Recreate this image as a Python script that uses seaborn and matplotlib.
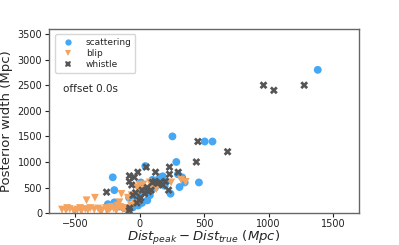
import numpy as np
import pandas as pd
import matplotlib
matplotlib.use('Agg')
import matplotlib.pyplot as plt
import seaborn as sns

# values (Mpc)
scatter_x = [-207, -195, -195, -245, -160, -120, -50, -30, 10, 30, 45, 60, 80, 100, 120,
             140, 160, 180, 195, 210, 240, 255, 285, 297, 310, 330, 350, 460, 505, 565,
             1380, -10, 20, 70, 150, -80, 0, 130, 170]
scatter_y = [700, 450, 210, 175, 130, 100, 115, 300, 600, 440, 920, 250, 350, 650, 500,
             600, 700, 720, 535, 620, 380, 1500, 1000, 760, 510, 700, 600, 600, 1400, 1400,
             2800, 150, 200, 400, 560, 300, 330, 640, 680]

blip_x = [-600, -570, -540, -510, -480, -450, -420, -400, -380, -350, -320, -290, -260,
          -230, -200, -180, -150, -410, -345, -140, -116, -100, -90, -60, -40, -20, 0, 30,
          60, 100, 245, 323, 357, -500, -300, -250, -130, -560, -460, -220, -170, 80, -5,
          129, -155, -65]
blip_y = [70, 60, 80, 50, 70, 40, 80, 60, 100, 70, 90, 60, 100, 80, 90, 50, 120, 250,
          300, 375, 100, 50, 300, 350, 200, 500, 550, 560, 480, 520, 600, 650, 610, 30,
          30, 40, 80, 100, 100, 120, 150, 600, 450, 470, 213, 147]

whistle_x = [-255, -75, -80, -78, -78, -13, 52, 124, 232, 232, 300, 225, 440, 452, 682,
             960, 1040, 1275, -50, -30, 0, 20, 60, 100, 120, 140, 160, 180, -60, 40, 70,
             -20, 10, -40, 90, 200]
whistle_y = [410, 100, 50, 730, 620, 800, 900, 800, 760, 900, 800, 450, 1000, 1400, 1200,
             2500, 2400, 2500, 350, 400, 250, 450, 500, 600, 620, 580, 600, 550, 550, 380,
             420, 200, 300, 700, 450, 620]

glitch_names = ['scattering', 'blip', 'whistle']
glitch_colors = ['#45A8F5', '#F4A460', '#555555']
glitch_markers = ['o', 'v', 'X']

df = pd.concat([
    pd.DataFrame({'dx': scatter_x, 'width': scatter_y, 'glitch': 'scattering'}),
    pd.DataFrame({'dx': blip_x, 'width': blip_y, 'glitch': 'blip'}),
    pd.DataFrame({'dx': whistle_x, 'width': whistle_y, 'glitch': 'whistle'}),
], ignore_index=True)

sns.set_style('ticks')
fig = plt.figure(figsize=(3.99, 2.45), dpi=100)
ax = fig.add_axes([0.123, 0.13, 0.777, 0.752])

sns.scatterplot(data=df, x='dx', y='width', hue='glitch', style='glitch',
                hue_order=glitch_names, style_order=glitch_names,
                palette=dict(zip(glitch_names, glitch_colors)),
                markers=dict(zip(glitch_names, glitch_markers)),
                s=32, linewidth=0, ax=ax)

ax.set_xlim(-700, 1700)
ax.set_ylim(0, 3600)
ax.set_xticks([-500, 0, 500, 1000, 1500])
ax.set_xticklabels(['\u2212500', '0', '500', '1000', '1500'])
ax.set_yticks(np.arange(0, 3501, 500))
ax.tick_params(labelsize=7, length=3, width=0.8, colors='#222222', pad=2)
ax.tick_params(axis='x', pad=1.5)
for sp in ax.spines.values():
    sp.set_color('#666666')
    sp.set_linewidth(1.0)

ax.set_xlabel(r'$Dist_{peak} - Dist_{true}\ (Mpc)$', fontsize=9.5, labelpad=-0.5)
ax.set_ylabel('Posterior width (Mpc)', fontsize=9.5, labelpad=3)

leg = ax.legend(loc='upper left', fontsize=6.5, frameon=True, markerscale=0.8,
                handletextpad=1.0, borderpad=0.4, labelspacing=0.25,
                bbox_to_anchor=(0.005, 0.995))
ax.text(0.045, 0.66, 'offset 0.0s', transform=ax.transAxes, fontsize=7.5)

fig.savefig('out.png', dpi=100)
